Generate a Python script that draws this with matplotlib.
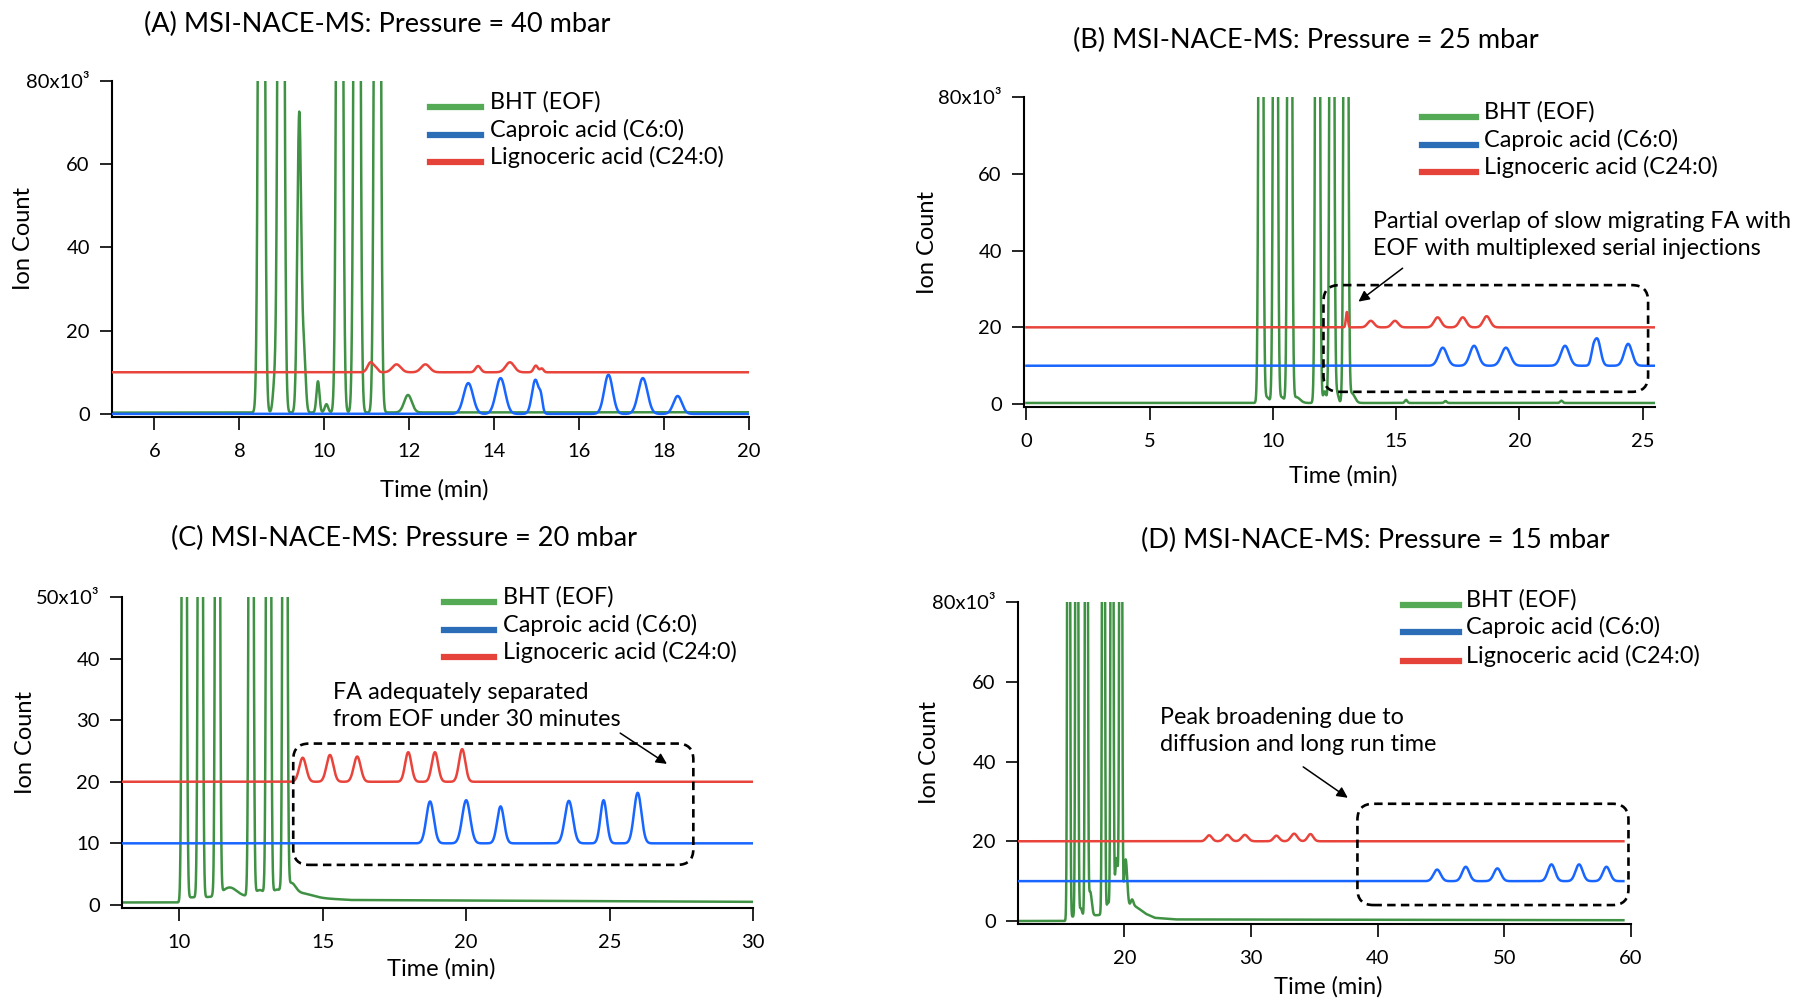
import numpy as np
import matplotlib
matplotlib.use("Agg")
import matplotlib.pyplot as plt
from matplotlib.patches import FancyBboxPatch
from matplotlib.transforms import IdentityTransform

plt.rcParams['font.family'] = ['Lato', 'DejaVu Sans']

# ---------------------------------------------------------------- data
SERIES = ['BHT (EOF)', 'Caproic acid (C6:0)', 'Lignoceric acid (C24:0)']
TITLES = ['(A) MSI-NACE-MS: Pressure = 40 mbar',
          '(B) MSI-NACE-MS: Pressure = 25 mbar',
          '(C) MSI-NACE-MS: Pressure = 20 mbar',
          '(D) MSI-NACE-MS: Pressure = 15 mbar']

# Panel A (40 mbar)
A_range = [5.0, 20.0]
A_bht_base_t = [5.0, 20.0]
A_bht_base_v = [0.3, 0.4]
A_bht_peak_t = [8.52, 8.83, 8.98, 9.41, 9.52, 9.85, 10.05, 10.36, 10.77, 11.25, 11.97]
A_bht_peak_h = [400, 7, 400, 72, 14, 7.5, 2, 400, 400, 400, 4.2]
A_bht_peak_w = [0.05, 0.04, 0.05, 0.045, 0.04, 0.035, 0.04, 0.05, 0.05, 0.05, 0.09]
A_c6_base = 0.0
A_c6_peak_t = [13.39, 14.15, 14.97, 15.10, 16.69, 17.50, 18.32]
A_c6_peak_h = [7.4, 8.6, 8.2, 3.0, 9.4, 8.6, 4.3]
A_c6_peak_w = [0.11, 0.11, 0.08, 0.04, 0.10, 0.11, 0.10]
A_c24_base = 10.0
A_c24_peak_t = [11.09, 11.22, 11.70, 12.38, 13.62, 14.37, 14.98, 15.12]
A_c24_peak_h = [2.4, 0.8, 1.9, 1.9, 1.5, 2.4, 1.6, 0.9]
A_c24_peak_w = [0.07, 0.05, 0.10, 0.10, 0.06, 0.10, 0.05, 0.04]

# Panel B (25 mbar)
B_range = [0.0, 25.5]
B_bht_base_t = [0.0, 25.5]
B_bht_base_v = [0.3, 0.3]
B_bht_peak_t = [9.51, 9.75, 10.10, 10.35, 10.68, 10.95, 11.81, 12.10, 12.39, 12.60, 12.96, 13.20, 15.4, 17.0, 21.7]
B_bht_peak_h = [400, 1.5, 400, 1.5, 400, 1.5, 400, 3.0, 400, 2.5, 400, 2.5, 0.8, 0.5, 0.6]
B_bht_peak_w = [0.06, 0.10, 0.06, 0.10, 0.06, 0.15, 0.06, 0.06, 0.06, 0.06, 0.06, 0.12, 0.05, 0.05, 0.05]
B_c6_base = 10.0
B_c6_peak_t = [16.89, 18.16, 19.45, 21.85, 22.98, 23.16, 24.41]
B_c6_peak_h = [4.7, 5.2, 4.7, 5.2, 2.5, 6.9, 5.7]
B_c6_peak_w = [0.17, 0.17, 0.18, 0.17, 0.08, 0.13, 0.16]
B_c24_base = 20.0
B_c24_peak_t = [13.00, 13.97, 14.95, 16.68, 17.70, 18.67]
B_c24_peak_h = [4.0, 1.7, 1.7, 2.6, 2.6, 2.9]
B_c24_peak_w = [0.04, 0.13, 0.13, 0.14, 0.14, 0.14]

# Panel C (20 mbar)
C_range = [8.0, 30.0]
C_bht_base_t = [8.0, 10.0, 10.1, 13.8, 14.5, 16.0, 30.0]
C_bht_base_v = [0.4, 0.4, 1.2, 1.5, 1.2, 0.8, 0.5]
C_bht_peak_t = [10.17, 10.73, 11.20, 11.33, 11.75, 12.50, 12.80, 13.11, 13.40, 13.55, 13.68, 13.90, 14.30]
C_bht_peak_h = [300, 300, -1.5, 300, 1.5, 300, 1.0, 300, 1.0, -1.8, 300, 1.8, 0.6]
C_bht_peak_w = [0.05, 0.05, 0.02, 0.05, 0.25, 0.05, 0.15, 0.05, 0.15, 0.02, 0.05, 0.15, 0.35]
C_c6_base = 10.0
C_c6_peak_t = [18.74, 20.00, 21.20, 23.58, 24.79, 25.98]
C_c6_peak_h = [6.8, 7.0, 6.0, 6.9, 7.0, 8.2]
C_c6_peak_w = [0.13, 0.14, 0.12, 0.14, 0.11, 0.13]
C_c24_base = 20.0
C_c24_peak_t = [14.30, 15.25, 16.20, 17.98, 18.91, 19.86]
C_c24_peak_h = [3.9, 4.35, 4.1, 4.8, 4.8, 5.3]
C_c24_peak_w = [0.12, 0.12, 0.12, 0.11, 0.11, 0.11]

# Panel D (15 mbar)
D_range = [11.6, 59.4]
D_bht_base_t = [11.6, 15.45, 15.5, 18.0, 20.7, 21.1, 21.7, 22.4, 24.0, 59.4]
D_bht_base_v = [0.0, 0.0, 1.0, 1.5, 4.0, 3.2, 1.8, 0.8, 0.4, 0.2]
D_bht_peak_t = [15.60, 16.24, 16.55, 17.00, 17.30, 18.35, 18.70, 19.02, 19.38, 19.71, 20.10, 20.60]
D_bht_peak_h = [400, 400, 2.0, 400, 6.0, 400, 2.5, 400, 13.0, 400, 12.0, 1.5]
D_bht_peak_w = [0.07, 0.07, 0.10, 0.07, 0.12, 0.07, 0.10, 0.07, 0.12, 0.07, 0.12, 0.10]
D_c6_base = 10.0
D_c6_peak_t = [44.69, 46.95, 49.45, 53.72, 55.90, 58.06]
D_c6_peak_h = [2.9, 3.6, 3.2, 4.2, 4.2, 3.6]
D_c6_peak_w = [0.28, 0.28, 0.28, 0.28, 0.28, 0.28]
D_c24_base = 20.0
D_c24_peak_t = [26.69, 28.12, 29.51, 32.00, 33.40, 34.69]
D_c24_peak_h = [1.5, 1.6, 1.6, 1.4, 1.9, 1.8]
D_c24_peak_w = [0.22, 0.25, 0.25, 0.22, 0.25, 0.22]

# axis ticks
A_xticks = [6, 8, 10, 12, 14, 16, 18, 20]
B_xticks = [0, 5, 10, 15, 20, 25]
C_xticks = [10, 15, 20, 25, 30]
D_xticks = [20, 30, 40, 50, 60]
A_yticks = [0, 20, 40, 60, 80]
B_yticks = [0, 20, 40, 60, 80]
C_yticks = [0, 10, 20, 30, 40, 50]
D_yticks = [0, 20, 40, 60, 80]

# annotation texts, box corners (time, ion count) and arrows
B_note = 'Partial overlap of slow migrating FA with\nEOF with multiplexed serial injections'
C_note = 'FA adequately separated\nfrom EOF under 30 minutes'
D_note = 'Peak broadening due to\ndiffusion and long run time'
B_box = [12.05, 3.2, 25.22, 31.0]
C_box = [13.97, 6.5, 27.92, 26.2]
D_box = [38.4, 4.0, 59.8, 29.4]
B_arrow = [15.26, 35.4, 13.47, 26.7]
C_arrow = [25.37, 27.9, 27.0, 22.9]
D_arrow = [34.12, 38.65, 37.64, 30.9]

# ---------------------------------------------------------------- style / layout
W, H = 1794, 999
fig = plt.figure(figsize=(W / 100, H / 100), dpi=100)

TRACE_COLORS = ['#3f9143', '#1866ff', '#e8443b']
LEG_COLORS = ['#55aa55', '#2c6db8', '#e5433a']


def fpos(x, y):
    return x / W, 1 - y / H


def trace(t, base_t, base_v, pk_t, pk_h, pk_w):
    y = np.interp(t, base_t, base_v)
    for c, h, w in zip(pk_t, pk_h, pk_w):
        y = y + h * np.exp(-0.5 * ((t - c) / w) ** 2)
    return y


panels = [
    dict(rect=[112, 81, 749, 417], xlim=(5, 20), ylim=(-0.75, 80),
         rng=A_range, bht=(A_bht_base_t, A_bht_base_v, A_bht_peak_t, A_bht_peak_h, A_bht_peak_w),
         c6=(A_c6_base, A_c6_peak_t, A_c6_peak_h, A_c6_peak_w),
         c24=(A_c24_base, A_c24_peak_t, A_c24_peak_h, A_c24_peak_w),
         xt=A_xticks, yt=A_yticks, title=TITLES[0], title_xy=(377, 24),
         xlab_y=490, ylab_x=23, leg=(430, 481, 490, [102, 129.5, 157]),
         note=None),
    dict(rect=[1024, 97, 1655, 407], xlim=(-0.1, 25.5), ylim=(-0.75, 80),
         rng=B_range, bht=(B_bht_base_t, B_bht_base_v, B_bht_peak_t, B_bht_peak_h, B_bht_peak_w),
         c6=(B_c6_base, B_c6_peak_t, B_c6_peak_h, B_c6_peak_w),
         c24=(B_c24_base, B_c24_peak_t, B_c24_peak_h, B_c24_peak_w),
         xt=B_xticks, yt=B_yticks, title=TITLES[1], title_xy=(1306, 40),
         xlab_y=476, ylab_x=927, leg=(1422, 1476, 1484, [112, 139.5, 167]),
         note=(B_note, (1373, 235), B_box, B_arrow)),
    dict(rect=[122, 597, 753, 908], xlim=(8, 30), ylim=(-0.5, 50),
         rng=C_range, bht=(C_bht_base_t, C_bht_base_v, C_bht_peak_t, C_bht_peak_h, C_bht_peak_w),
         c6=(C_c6_base, C_c6_peak_t, C_c6_peak_h, C_c6_peak_w),
         c24=(C_c24_base, C_c24_peak_t, C_c24_peak_h, C_c24_peak_w),
         xt=C_xticks, yt=C_yticks, title=TITLES[2], title_xy=(404, 538),
         xlab_y=969, ylab_x=25, leg=(444, 494, 503, [597, 624.5, 652]),
         note=(C_note, (333, 706), C_box, C_arrow)),
    dict(rect=[1018, 602, 1631, 924], xlim=(11.6, 60), ylim=(-0.75, 80),
         rng=D_range, bht=(D_bht_base_t, D_bht_base_v, D_bht_peak_t, D_bht_peak_h, D_bht_peak_w),
         c6=(D_c6_base, D_c6_peak_t, D_c6_peak_h, D_c6_peak_w),
         c24=(D_c24_base, D_c24_peak_t, D_c24_peak_h, D_c24_peak_w),
         xt=D_xticks, yt=D_yticks, title=TITLES[3], title_xy=(1375, 540),
         xlab_y=987, ylab_x=929, leg=(1403, 1459, 1466, [599.5, 627, 655.5]),
         note=(D_note, (1160, 731), D_box, D_arrow)),
]

TICK_FS = 14.5
LAB_FS = 17
TITLE_FS = 19.5
LEG_FS = 16.8

for p in panels:
    x0, y0, x1, y1 = p['rect']
    ax = fig.add_axes([x0 / W, 1 - y1 / H, (x1 - x0) / W, (y1 - y0) / H])
    ax.set_xlim(*p['xlim'])
    ax.set_ylim(*p['ylim'])
    t = np.linspace(p['rng'][0], p['rng'][1], 8000)
    g = trace(t, *p['bht'])
    b_base, b_t, b_h, b_w = p['c6']
    r_base, r_t, r_h, r_w = p['c24']
    b = trace(t, [t[0], t[-1]], [b_base, b_base], b_t, b_h, b_w)
    r = trace(t, [t[0], t[-1]], [r_base, r_base], r_t, r_h, r_w)
    ax.plot(t, g, color=TRACE_COLORS[0], lw=1.8, zorder=2)
    ax.plot(t, b, color=TRACE_COLORS[1], lw=1.8, zorder=3)
    ax.plot(t, r, color=TRACE_COLORS[2], lw=1.8, zorder=4)

    for s in ['top', 'right']:
        ax.spines[s].set_visible(False)
    for s in ['left', 'bottom']:
        ax.spines[s].set_linewidth(1.5)
    ax.set_xticks(p['xt'])
    ax.set_xticklabels([str(v) for v in p['xt']])
    ax.set_yticks(p['yt'])
    ylabels = [str(v) for v in p['yt']]
    ylabels[-1] = ylabels[-1] + 'x10\u00b3'
    ax.set_yticklabels(ylabels)
    ax.tick_params(direction='out', length=9, width=1.2, labelsize=TICK_FS)
    ax.tick_params(axis='y', pad=7)
    ax.tick_params(axis='x', pad=10)

    # titles and axis labels
    tx, ty = fpos(*p['title_xy'])
    fig.text(tx, ty, p['title'], ha='center', va='center', fontsize=TITLE_FS)
    fig.text(*fpos((x0 + x1) / 2 + 4, p['xlab_y']), 'Time (min)', ha='center', va='center', fontsize=LAB_FS)
    fig.text(*fpos(p['ylab_x'], (y0 + y1) / 2 - 10), 'Ion Count', ha='center', va='center',
             rotation=90, fontsize=LAB_FS)

    # legend
    hx0, hx1, txx, rows = p['leg']
    for name, col, ry in zip(SERIES, LEG_COLORS, rows):
        fig.add_artist(plt.Line2D([hx0 / W, hx1 / W], [1 - (ry + 5) / H] * 2, color=col, lw=4.5))
        fig.text(txx / W, 1 - ry / H, name, ha='left', va='center', fontsize=LEG_FS)

    # annotation
    if p['note'] is not None:
        text, (nx, ny), box, arr = p['note']
        fig.text(nx / W, 1 - ny / H, text, ha='left', va='center', fontsize=LEG_FS, linespacing=1.3)
        fig.canvas.draw()
        (px0, py0) = ax.transData.transform((box[0], box[1]))
        (px1, py1) = ax.transData.transform((box[2], box[3]))
        patch = FancyBboxPatch((px0, py0), px1 - px0, py1 - py0,
                               boxstyle='round,pad=0,rounding_size=16',
                               transform=IdentityTransform(), fill=False,
                               edgecolor='black', lw=1.9, linestyle=(0, (3.2, 2.0)))
        fig.add_artist(patch)
        ax.annotate('', xy=(arr[2], arr[3]), xytext=(arr[0], arr[1]),
                    arrowprops=dict(arrowstyle='-|>', color='black', lw=1.1,
                                    mutation_scale=16, shrinkA=0, shrinkB=0),
                    annotation_clip=False)

fig.savefig('out.png', dpi=100)
